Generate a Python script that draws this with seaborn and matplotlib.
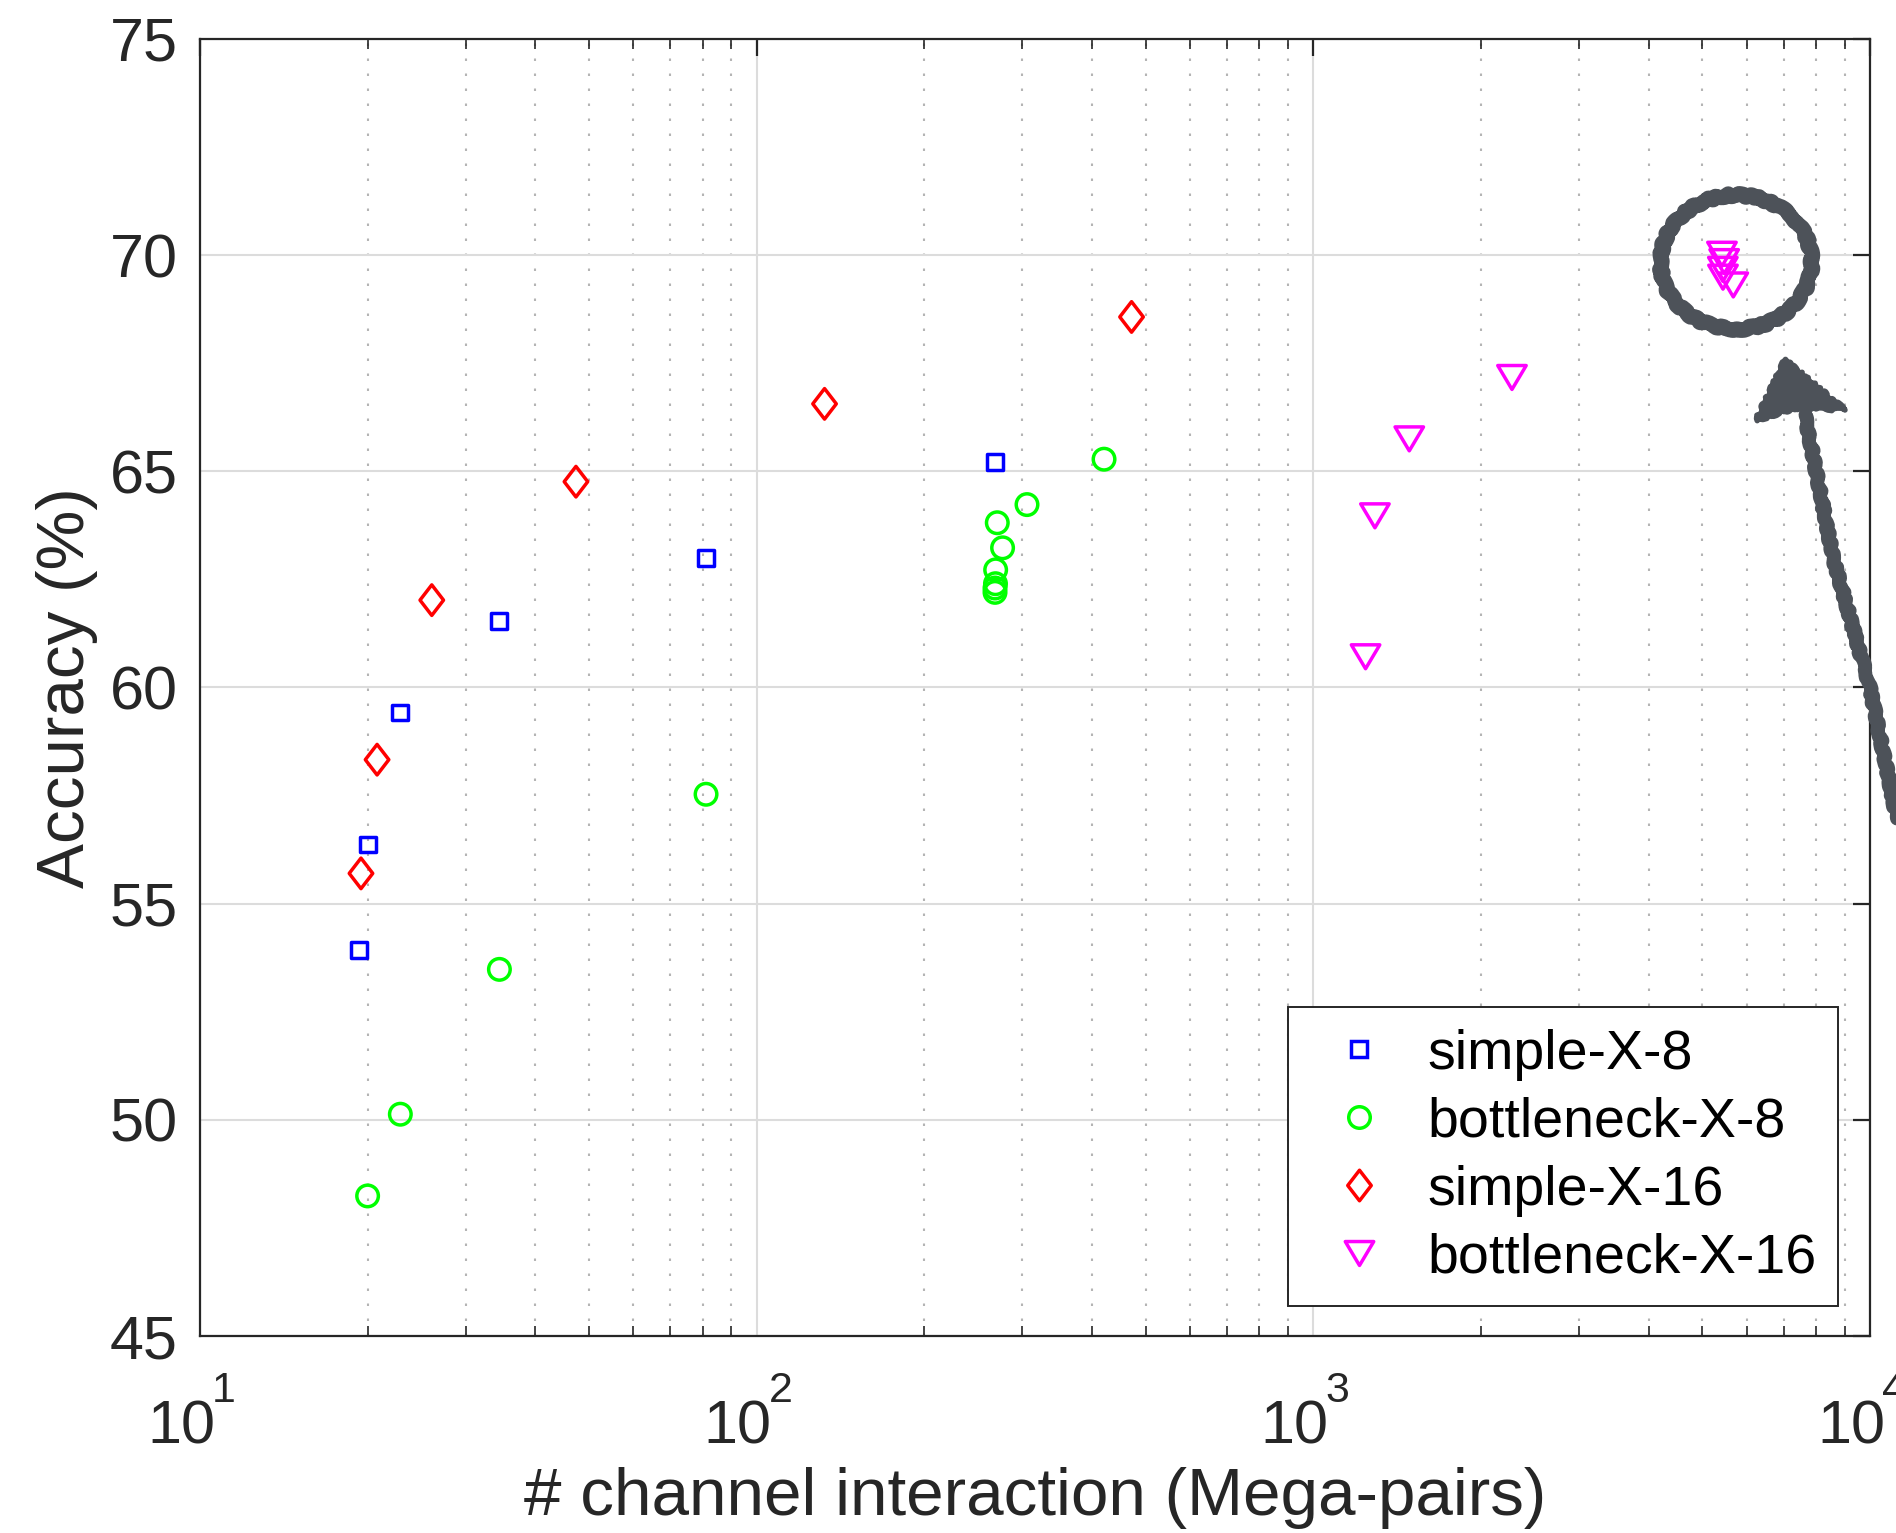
import numpy as np
import pandas as pd
import matplotlib
matplotlib.use("Agg")
import matplotlib.pyplot as plt
from matplotlib.path import Path
from matplotlib.lines import Line2D
from matplotlib.patches import Ellipse, Polygon
from matplotlib.ticker import LogLocator, NullFormatter, FixedLocator
from matplotlib.transforms import ScaledTranslation
import seaborn as sns

# ---- data: channel interactions (Mega-pairs) vs. top-1 accuracy (%) ----
simple_x8_pairs = [19.3, 20.0, 22.9, 34.5, 81.2, 268.0]
simple_x8_acc = [53.92, 56.37, 59.42, 61.54, 63.00, 65.22]

bottleneck_x8_pairs = [20.0, 22.9, 34.5, 81.1, 268.0, 268.0, 268.5, 268.7, 276.5, 270.5, 305.9, 420.7]
bottleneck_x8_acc = [48.24, 50.13, 53.48, 57.53, 62.20, 62.30, 62.40, 62.72, 63.23, 63.81, 64.23, 65.28]

simple_x16_pairs = [19.46, 20.8, 26.08, 47.35, 132.4, 471.4]
simple_x16_acc = [55.70, 58.33, 62.02, 64.76, 66.56, 68.57]

bottleneck_x16_pairs = [1241, 1290, 1487, 2274, 5420, 5470, 5440, 5443, 5680]
bottleneck_x16_acc = [60.71, 63.97, 65.75, 67.17, 70.02, 69.85, 69.67, 69.49, 69.31]

series_names = ["simple-X-8", "bottleneck-X-8", "simple-X-16", "bottleneck-X-16"]
series_colors = ["#0000ff", "#00ff00", "#ff0000", "#ff00ff"]

x_ticks = [10, 100, 1000, 10000]
y_ticks = [45, 50, 55, 60, 65, 70, 75]

frames = []
for name, xs, ys in zip(
    series_names,
    [simple_x8_pairs, bottleneck_x8_pairs, simple_x16_pairs, bottleneck_x16_pairs],
    [simple_x8_acc, bottleneck_x8_acc, simple_x16_acc, bottleneck_x16_acc],
):
    frames.append(pd.DataFrame({"pairs": xs, "acc": ys, "model": name}))
df = pd.concat(frames, ignore_index=True)

# ---- marker shapes ----
diamond = Path([(0, 1), (0.77, 0), (0, -1), (-0.77, 0), (0, 1)],
               [Path.MOVETO, Path.LINETO, Path.LINETO, Path.LINETO, Path.CLOSEPOLY])
tri_down = Path([(0, -0.84), (-1, 0.84), (1, 0.84), (0, -0.84)],
                [Path.MOVETO, Path.LINETO, Path.LINETO, Path.CLOSEPOLY])
series_markers = ["s", "o", diamond, tri_down]
series_msize = [11.4, 15.5, 22.0, 20.5]
edge_w = 2.5

# ---- style ----
sns.set_theme(style="white")
plt.rcParams["font.family"] = ["Liberation Sans", "DejaVu Sans"]
plt.rcParams["axes.unicode_minus"] = False

text_col = "#262626"
fig = plt.figure(figsize=(18.96, 15.33), dpi=100)
ax = fig.add_axes([0.1055, 0.1285, 0.8808, 0.8461])

for name, color, m, ms in zip(series_names, series_colors, series_markers, series_msize):
    sub = df[df["model"] == name]
    sns.scatterplot(data=sub, x="pairs", y="acc", marker=m, s=ms ** 2,
                    facecolor="none", edgecolor=color, linewidth=edge_w,
                    ax=ax, legend=False, zorder=4, clip_on=False)

ax.set_xscale("log")
ax.set_xlim(10, 10000)
ax.set_ylim(45, 75)
ax.xaxis.set_major_locator(FixedLocator(x_ticks))
ax.xaxis.set_minor_locator(LogLocator(base=10, subs=np.arange(2, 10)))
ax.xaxis.set_minor_formatter(NullFormatter())
ax.set_yticks(y_ticks)
ax.set_yticklabels([str(v) for v in y_ticks])

# grid: solid light major lines, dotted minor lines on x
ax.grid(True, which="major", axis="both", color="#dcdcdc", linewidth=1.5, zorder=0)
ax.grid(True, which="minor", axis="x", color="#b4b4b4", linewidth=1.5,
        linestyle=(0, (1.2, 6)), zorder=0)
ax.set_axisbelow(True)

for sp in ax.spines.values():
    sp.set_visible(True)
    sp.set_color(text_col)
    sp.set_linewidth(1.6)

ax.tick_params(axis="both", which="major", direction="in", length=12, width=1.6,
               color=text_col, labelcolor=text_col, labelsize=44,
               top=True, right=True)
ax.tick_params(axis="y", which="major", pad=16)
ax.tick_params(axis="x", which="major", pad=46)
ax.tick_params(axis="x", which="minor", direction="in", length=7, width=1.2,
               color=text_col, top=True, bottom=True)

# x tick labels: base "10" with a raised exponent beside it
exponents = [int(round(np.log10(v))) for v in x_ticks]
ax.set_xticklabels(["10"] * len(x_ticks))
base_shift = ScaledTranslation(-0.19, 0, fig.dpi_scale_trans)
for lab in ax.get_xticklabels():
    lab.set_transform(lab.get_transform() + base_shift)
for v, e in zip(x_ticks, exponents):
    ax.annotate(str(e), xy=(v, 0), xycoords=("data", "axes fraction"),
                xytext=(8.5, -47.5), textcoords="offset points",
                ha="left", va="baseline", fontsize=31, color=text_col,
                annotation_clip=False)

ax.set_xlabel("# channel interaction (Mega-pairs)", fontsize=48.5, color=text_col)
ax.set_ylabel("Accuracy (%)", fontsize=48.5, color=text_col)
ax.xaxis.set_label_coords(0.5, -0.101)
ax.yaxis.set_label_coords(-0.061, 0.5)

# legend
handles = [Line2D([], [], linestyle="none", marker=m, markersize=ms,
                  markerfacecolor="none", markeredgecolor=c, markeredgewidth=edge_w)
           for m, ms, c in zip(series_markers, series_msize, series_colors)]
leg = ax.legend(handles, series_names, loc="lower right",
                bbox_to_anchor=(0.9808, 0.0231), bbox_transform=ax.transAxes,
                borderaxespad=0, frameon=True, fancybox=False, framealpha=1,
                edgecolor=text_col, fontsize=40, borderpad=0.38,
                labelspacing=0.29, handlelength=1.8, handletextpad=0.34)
leg.get_frame().set_linewidth(1.4)
for t in leg.get_texts():
    t.set_color("black")
leg.set_zorder(5)

# hand-drawn highlight around the best cluster, with a pointer arrow
mark_col = "#4d5259"
ring = Ellipse((0.9198, 0.828), width=0.0904, height=0.1033, transform=ax.transAxes,
               fill=False, edgecolor=mark_col, linewidth=11, clip_on=False, zorder=6,
               joinstyle="round", capstyle="round")
ring.set_sketch_params(scale=1.5, length=25, randomness=8)
ax.add_patch(ring)

shaft_x = [1.020, 1.0, 0.9778, 0.9611]
shaft_y = [0.3750, 0.4996, 0.6006, 0.7101]
shaft = Line2D(shaft_x, shaft_y, transform=ax.transAxes, color=mark_col,
               linewidth=10, solid_capstyle="round", solid_joinstyle="round",
               clip_on=False, zorder=6)
shaft.set_sketch_params(scale=1.5, length=25, randomness=8)
ax.add_line(shaft)
head = Polygon([(0.9491, 0.7525), (0.9317, 0.7062), (0.9580, 0.7160), (0.9850, 0.7140)],
               closed=True, transform=ax.transAxes, facecolor=mark_col,
               edgecolor=mark_col, linewidth=4, clip_on=False, zorder=6,
               joinstyle="round")
head.set_sketch_params(scale=1.5, length=20, randomness=8)
ax.add_patch(head)

fig.savefig("out.png", dpi=100)
